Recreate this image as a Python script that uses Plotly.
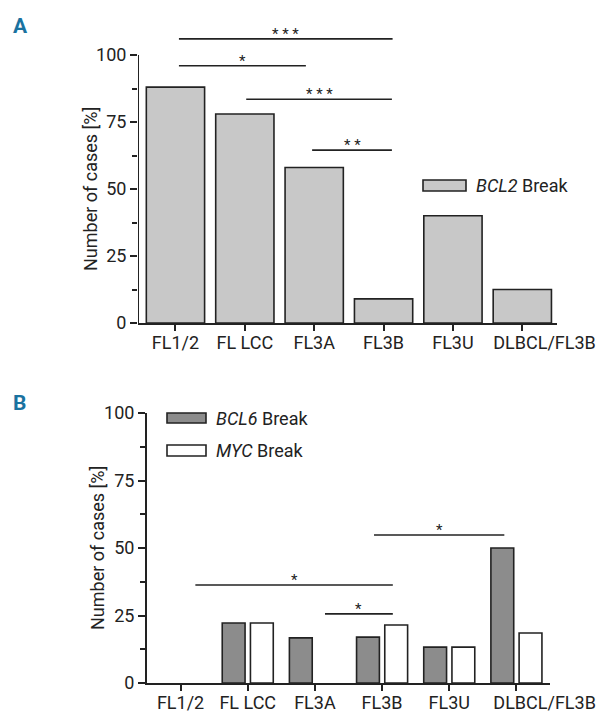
import plotly.graph_objects as go

# ---------------- data ----------------
categories = ["FL1/2", "FL LCC", "FL3A", "FL3B", "FL3U", "DLBCL/FL3B"]
bcl2_break = [88, 78, 58, 9, 40, 12.5]
bcl6_break = [0, 22.2, 16.7, 17.0, 13.3, 50]
myc_break = [0, 22.2, 0, 21.5, 13.3, 18.5]
y_ticks = [0, 25, 50, 75, 100]

# significance brackets (category-index positions, y level in %)
sig_a_x0 = [0.05, 0.05, 1.02, 1.97]
sig_a_x1 = [3.13, 1.88, 3.12, 3.12]
sig_a_y = [106, 96, 83.5, 64.5]
sig_a_lbl = ["* * *", "*", "* * *", "* *"]

sig_b_x0 = [2.88, 0.22, 2.15]
sig_b_x1 = [4.82, 3.16, 3.16]
sig_b_y = [54.8, 36.3, 25.6]
sig_b_lbl = ["*", "*", "*"]

# where the category labels sit (the last one is pushed right, as in the original)
label_pos_a = [0, 1, 2, 3, 4, 5.32]
label_pos_b = [0, 1, 2, 3, 4, 5.42]

FAM = "Roboto, Liberation Sans, sans-serif"
INK = "#222222"
W, H = 596, 713


def F(size, color=INK):
    return dict(family=FAM, size=size, color=color)


def px(x):
    return x / W


def py(y):
    return 1 - y / H


idx = list(range(len(categories)))
LW = 1.6


def lw(vals):
    return [0 if v == 0 else LW for v in vals]


fig = go.Figure()
fig.add_trace(go.Bar(x=idx, y=bcl2_break, name="BCL2 Break",
                     marker=dict(color="#c8c8c8", line=dict(color=INK, width=lw(bcl2_break))),
                     xaxis="x", yaxis="y", showlegend=False, width=0.84))
fig.add_trace(go.Bar(x=idx, y=bcl6_break, name="BCL6 Break",
                     marker=dict(color="#8c8c8c", line=dict(color=INK, width=lw(bcl6_break))),
                     xaxis="x2", yaxis="y2", showlegend=False, width=0.34, offset=-0.38))
fig.add_trace(go.Bar(x=idx, y=myc_break, name="MYC Break",
                     marker=dict(color="#ffffff", line=dict(color=INK, width=lw(myc_break))),
                     xaxis="x2", yaxis="y2", showlegend=False, width=0.34, offset=0.04))
# invisible carriers so the label-only overlay axes get drawn
for xa_name, ya_name, pos in (("x3", "y", label_pos_a), ("x4", "y2", label_pos_b)):
    fig.add_trace(go.Scatter(x=pos, y=[0] * len(pos), mode="none", xaxis=xa_name, yaxis=ya_name,
                             hoverinfo="skip", showlegend=False))

axis_common = dict(showgrid=False, zeroline=False, linecolor=INK, linewidth=2, automargin=False,
                   ticks="outside", tickcolor=INK, tickwidth=2, ticklen=7,
                   tickfont=F(18))

# category axes: ticks only
xa = dict(axis_common, tickmode="array", tickvals=idx, showticklabels=False, showline=True,
          ticklen=6)
# label-only overlay axes (same scale)
xl = dict(showgrid=False, zeroline=False, showline=False, automargin=False, ticks="outside",
          ticklen=3, tickwidth=2, tickcolor="rgba(0,0,0,0)", tickmode="array", tickangle=0,
          tickfont=F(18))
ya = dict(axis_common, tickmode="array", tickvals=y_ticks, ticktext=[str(v) for v in y_ticks],
          minor=dict(tickvals=[12.5, 37.5, 62.5, 87.5], ticks="outside", ticklen=5, tickwidth=2,
                     tickcolor=INK))

xdom_a = [px(138), px(557)]
xdom_b = [px(147), px(550)]
xr_a = [-0.54, 5.5]
xr_b = [-0.5, 5.5]

fig.update_layout(
    template="none",
    width=W, height=H, margin=dict(l=0, r=0, t=0, b=0, autoexpand=False),
    paper_bgcolor="white", plot_bgcolor="white",
    barmode="overlay",
    xaxis=dict(xa, domain=xdom_a, range=xr_a, anchor="y"),
    yaxis=dict(ya, domain=[py(323), py(323 - 108 * 2.68)], range=[0, 108], showline=False,
               anchor="x"),
    xaxis2=dict(xa, domain=xdom_b, range=xr_b, anchor="y2"),
    yaxis2=dict(ya, domain=[py(683), py(413)], range=[0, 100], showline=True, anchor="x2"),
    xaxis3=dict(xl, domain=xdom_a, range=xr_a, anchor="y", overlaying="x", side="bottom",
                tickvals=label_pos_a, ticktext=categories),
    xaxis4=dict(xl, domain=xdom_b, range=xr_b, anchor="y2", overlaying="x2", side="bottom",
                tickvals=label_pos_b, ticktext=categories),
    font=F(18),
)

shapes = []
annotations = []
# y axis line of panel A (only up to 100)
shapes.append(dict(type="line", xref="x", yref="y", x0=xr_a[0], x1=xr_a[0], y0=0, y1=100,
                   line=dict(color=INK, width=2)))

for x0, x1, y, lbl in zip(sig_a_x0, sig_a_x1, sig_a_y, sig_a_lbl):
    shapes.append(dict(type="line", xref="x", yref="y", x0=x0, x1=x1, y0=y, y1=y,
                       line=dict(color=INK, width=1.6)))
    annotations.append(dict(xref="x", yref="y", x=(x0 + x1) / 2, y=y, text=lbl, showarrow=False,
                            yanchor="bottom", yshift=-6, font=F(15)))
for x0, x1, y, lbl in zip(sig_b_x0, sig_b_x1, sig_b_y, sig_b_lbl):
    shapes.append(dict(type="line", xref="x2", yref="y2", x0=x0, x1=x1, y0=y, y1=y,
                       line=dict(color=INK, width=1.6)))
    annotations.append(dict(xref="x2", yref="y2", x=(x0 + x1) / 2, y=y, text=lbl, showarrow=False,
                            yanchor="bottom", yshift=-6, font=F(15)))

# axis titles
for yref, xp in (("y", 90), ("y2", 97)):
    annotations.append(dict(xref="paper", yref=yref, x=px(xp), y=50, text="Number of cases [%]",
                            textangle=-90, showarrow=False, xanchor="center", yanchor="middle",
                            font=F(18)))

# panel letters
for lbl, yy in (("A", 26), ("B", 403)):
    annotations.append(dict(xref="paper", yref="paper", x=px(11), y=py(yy), text="<b>" + lbl + "</b>",
                            showarrow=False, xanchor="left", yanchor="middle",
                            font=F(21, "#1a72a0")))

# legends (swatch + label)
legend_items = [
    ("#c8c8c8", 423, 466, 180, 191, 474, "<i>BCL2</i> Break"),
    ("#8c8c8c", 167, 206, 413, 423, 214, "<i>BCL6</i> Break"),
    ("#ffffff", 167, 206, 445, 456, 214, "<i>MYC</i> Break"),
]
for col, x0, x1, y0, y1, tx, txt in legend_items:
    shapes.append(dict(type="rect", xref="paper", yref="paper", x0=px(x0), x1=px(x1), y0=py(y1),
                       y1=py(y0), fillcolor=col, line=dict(color=INK, width=1.6)))
    annotations.append(dict(xref="paper", yref="paper", x=px(tx), y=py((y0 + y1) / 2), text=txt,
                            showarrow=False, xanchor="left", yanchor="middle", font=F(18)))

fig.update_layout(shapes=shapes, annotations=annotations)
fig.write_html(
    "out.html",
    config={"displayModeBar": False},
    post_script="document.body.style.margin='0px';document.body.style.overflow='hidden';",
)
